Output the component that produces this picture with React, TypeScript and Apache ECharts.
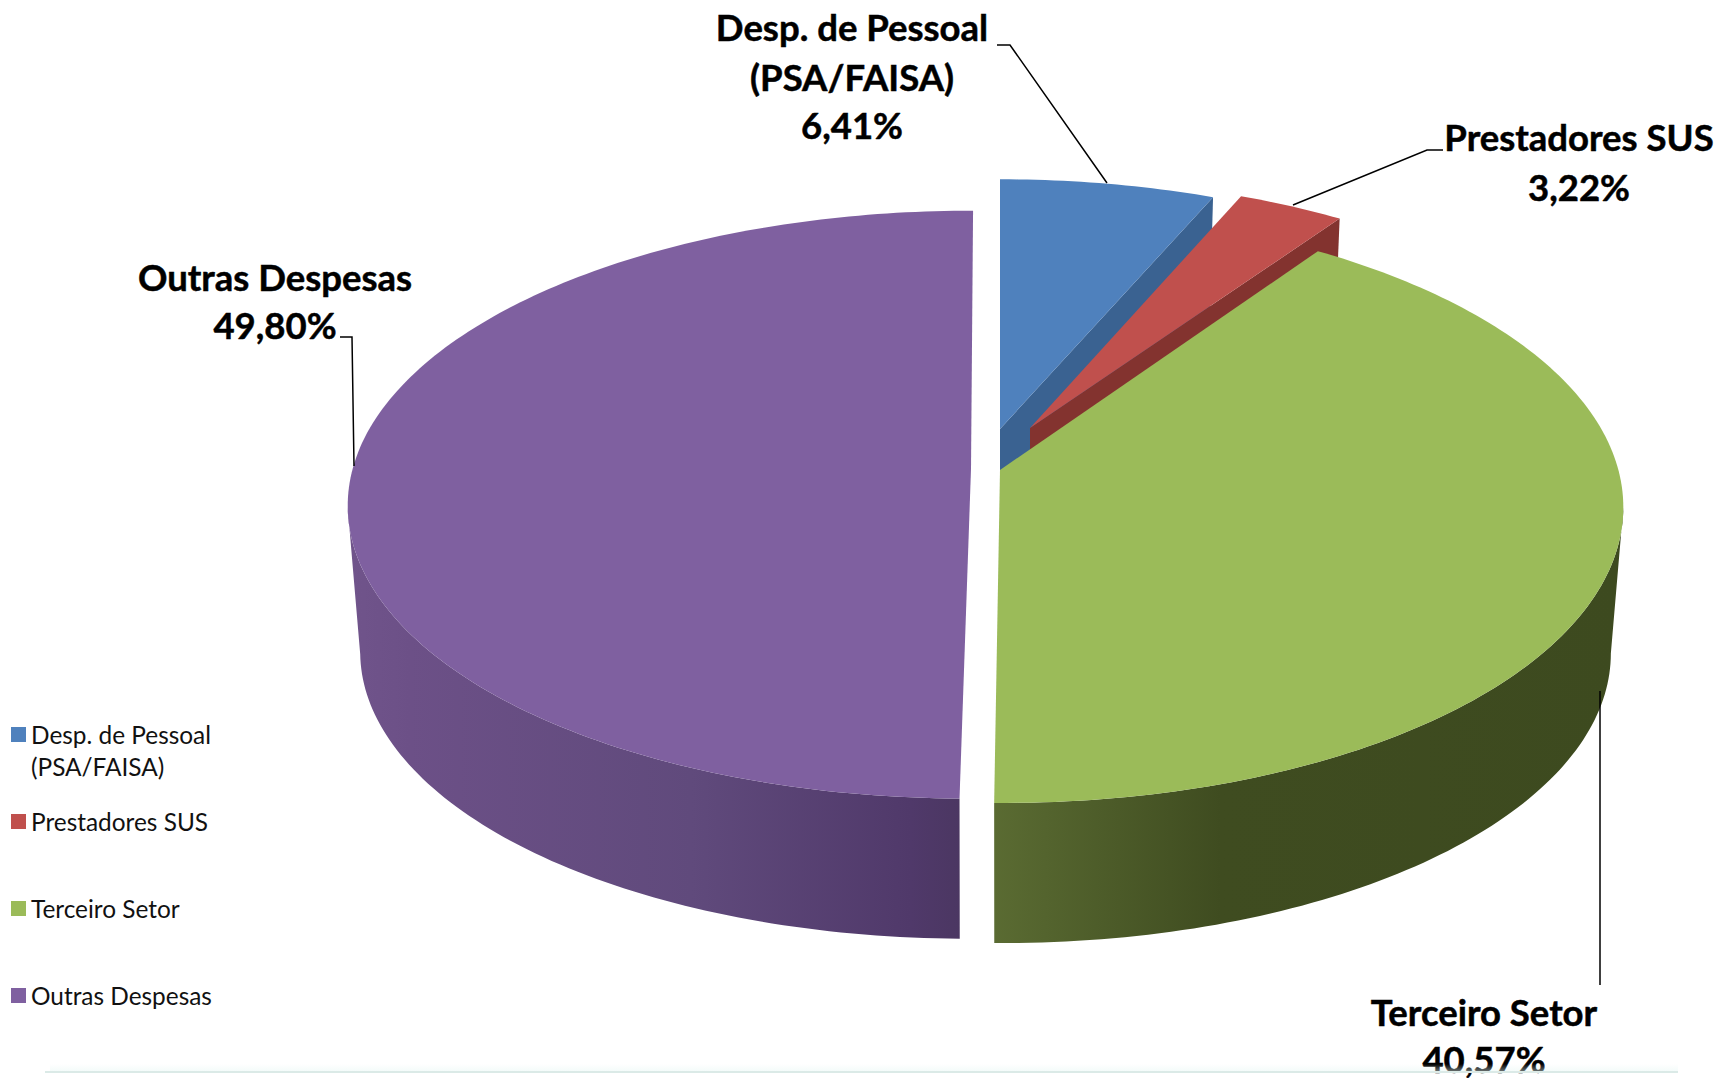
import React, { useEffect, useRef } from "react";
import * as echarts from "echarts";

const categories = ["Desp. de Pessoal\n(PSA/FAISA)", "Prestadores SUS", "Terceiro Setor", "Outras Despesas"];
const percentValues = [6.41, 3.22, 40.57, 49.8];
const topColors = ["#4f81bd", "#c0504d", "#9bbb59", "#7f60a0"];

// Projection of the pie's disc (a circle seen in perspective)
const PROJ = { a: 618.4, b: 292.6, k: 0.1212, height: 146.7, lowerScale: 0.98 };
// Explosion of each slice: apex position, perspective shrink and lean
const sliceLayout = [
  { ax: 1000, ay: 429, sx: 0.977, sy: 0.957, shear: 0 },
  { ax: 1030, ay: 428, sx: 0.968, sy: 0.957, shear: 0 },
  { ax: 1000, ay: 470, sx: 1, sy: 1, shear: 0.009 },
  { ax: 971, ay: 469, sx: 1, sy: 0.99, shear: -0.008 },
];
const radialWallColors = ["#3a6291", "#83332f", "#3d4a1f", "#4a3660"];
const outerWallStops: [number, string][][] = [
  [[0, "#3a6291"], [1, "#3a6291"]],
  [[0, "#83332f"], [1, "#83332f"]],
  [[0, "#5a6b32"], [0.36, "#3f4c20"], [1, "#3d4a1f"]],
  [[0, "#70548b"], [0.1, "#6c5087"], [0.55, "#604a7c"], [0.9, "#50396a"], [1, "#4a3660"]],
];

const total = percentValues.reduce((s, v) => s + v, 0);

function project(deg: number, i: number, lower: boolean): number[] {
  const { a, b, k, height, lowerScale } = PROJ;
  const { ax, ay, sx, sy, shear } = sliceLayout[i];
  const r = (deg * Math.PI) / 180;
  const u = Math.sin(r);
  const v = -Math.cos(r);
  const w = 1 - k * v;
  const y = ((b * v) / w) * sy;
  const x = ((a * u) / w) * sx + shear * y;
  return lower ? [ax + x * lowerScale, ay + height + y * lowerScale] : [ax + x, ay + y];
}

function arc(a0: number, a1: number, i: number, lower: boolean): number[][] {
  const n = Math.max(2, Math.ceil(a1 - a0));
  const pts: number[][] = [];
  for (let j = 0; j <= n; j++) pts.push(project(a0 + ((a1 - a0) * j) / n, i, lower));
  return pts;
}

function makeRenderItem(i: number) {
  const before = percentValues.slice(0, i).reduce((s, v) => s + v, 0);
  return (_params: any, api: any) => {
    const value = api.value(0);
    const a0 = (before / total) * 360;
    const a1 = ((before + value) / total) * 360;
    const { ax, ay } = sliceLayout[i];
    const apex = [ax, ay];
    const apexLow = [ax, ay + PROJ.height];
    const topArc = arc(a0, a1, i, false);
    const lowArc = arc(a0, a1, i, true);
    const xs = [...topArc, ...lowArc].map((p) => p[0]);
    const minX = Math.min(...xs);
    const maxX = Math.max(...xs);
    const children: any[] = [];
    if (a1 < 90) {
      children.push({
        type: "polygon",
        shape: { points: [apex, topArc[topArc.length - 1], lowArc[lowArc.length - 1], apexLow] },
        style: { fill: radialWallColors[i] },
      });
    }
    // Split the outer wall at the arc's horizontal extreme, so that the
    // silhouette's tangent edge is drawn; only the front part can be seen.
    const topXs = topArc.map((p) => Math.abs(p[0] - ax));
    const split = topXs.indexOf(Math.max(...topXs));
    const wallFill = new echarts.graphic.LinearGradient(
      minX, 0, maxX, 0,
      outerWallStops[i].map(([offset, color]) => ({ offset, color })),
      true
    );
    [[0, split + 1], [split, topArc.length]].forEach(([from, to]) => {
      if (to - from < 2) return;
      const part = topArc.slice(from, to);
      if (part[Math.floor(part.length / 2)][1] <= ay) return;
      children.push({
        type: "polygon",
        shape: { points: [...part, ...lowArc.slice(from, to).reverse()] },
        style: { fill: wallFill },
      });
    });
    children.push({
      type: "polygon",
      shape: { points: [apex, ...topArc] },
      style: { fill: topColors[i] },
    });
    return { type: "group", children };
  };
}

const fmt = (v: number) => v.toFixed(2).replace(".", ",") + "%";
const LABEL_FONT = "Lato";
const LABEL_SIZE = 36.5;
const labelAnchors = [
  { x: 852, ys: [27, 77, 125] },
  { x: 1579, ys: [137, 187] },
  { x: 1484, ys: [1012, 1059] },
  { x: 275, ys: [277, 325] },
];
const leaders = [
  [[997, 45], [1010, 45], [1107, 183]],
  [[1443, 150], [1427, 150], [1293, 205]],
  [[1600, 985], [1600, 691]],
  [[340, 337], [352, 337], [354, 466]],
];
const legendTops = [718.5, 805.5, 892.5, 979.5];

function buildOption() {
  const graphic: any[] = [];
  categories.forEach((name, i) => {
    const lines = [...name.split("\n"), fmt(percentValues[i])];
    lines.forEach((text, j) => {
      graphic.push({
        type: "text",
        x: labelAnchors[i].x,
        y: labelAnchors[i].ys[j],
        z: 10,
        style: {
          text,
          fill: "#000",
          stroke: "#000",
          lineWidth: 0.5,
          font: `700 ${LABEL_SIZE}px ${LABEL_FONT}`,
          align: "center",
          verticalAlign: "middle",
        },
      });
    });
    graphic.push({
      type: "polyline",
      z: 9,
      shape: { points: leaders[i] },
      style: { stroke: "#000", lineWidth: 1.5, fill: "none" },
    });
  });
  graphic.push(
    {
      type: "rect", z: 12, shape: { x: 50, y: 1064, width: 1628, height: 8 },
      style: { fill: new echarts.graphic.LinearGradient(0, 0, 0, 1, [{ offset: 0, color: "rgba(230,246,243,0)" }, { offset: 1, color: "rgba(230,246,243,0.5)" }]) },
    },
    { type: "rect", z: 12, shape: { x: 45, y: 1071, width: 1633, height: 2 }, style: { fill: "#dbeae7" } }
  );

  return {
    animation: false,
    backgroundColor: "#fff",
    legend: categories.map((name, i) => ({
      data: [name],
      left: 11,
      top: legendTops[i],
      padding: 0,
      itemGap: 0,
      itemWidth: 15,
      itemHeight: i === 0 ? 47 : 15,
      icon: i === 0 ? "path://M0 0H15V15H0Z M0 47H15V47H0Z" : "rect",
      selectedMode: false,
      textStyle: { fontFamily: LABEL_FONT, fontSize: 24.4, lineHeight: 32, color: "#111" },
    })),
    graphic,
    series: categories.map((name, i) => ({
      type: "custom",
      name,
      coordinateSystem: "none",
      silent: true,
      z: 2 + i,
      itemStyle: { color: topColors[i] },
      data: [[percentValues[i]]],
      renderItem: makeRenderItem(i),
    })),
  };
}

export default function App() {
  const ref = useRef<HTMLDivElement>(null);
  useEffect(() => {
    document.body.style.margin = "0";
    const chart = echarts.init(ref.current!, undefined, { renderer: "svg" });
    chart.setOption(buildOption() as any);
    return () => chart.dispose();
  }, []);
  return <div ref={ref} style={{ position: "absolute", left: 0, top: 0, width: 1720, height: 1078, overflow: "hidden" }} />;
}
